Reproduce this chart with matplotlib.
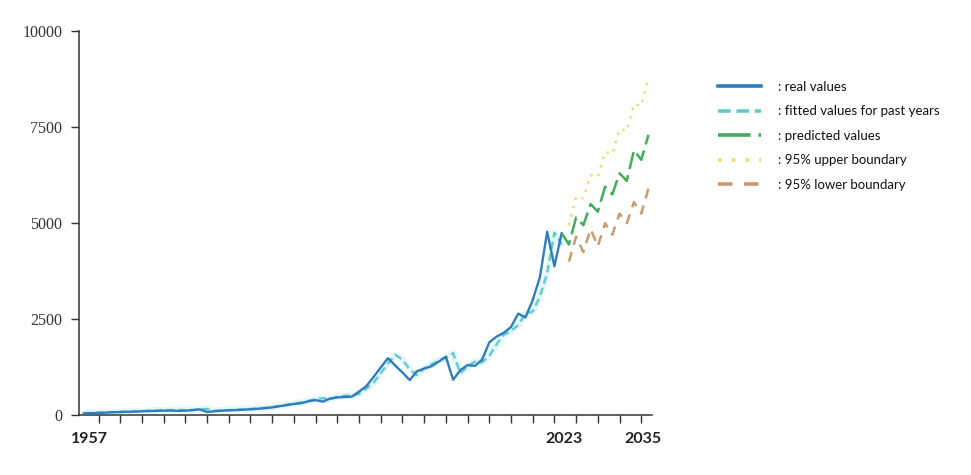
import numpy as np
import matplotlib
matplotlib.use('Agg')
import matplotlib.pyplot as plt
from matplotlib.lines import Line2D

# data
years_real = list(range(1957, 2024))
real = [55, 60, 65, 75, 85, 90, 95, 100, 110, 115,
        120, 125, 130, 120, 125, 140, 160, 90, 110, 125,
        135, 140, 150, 160, 175, 190, 210, 240, 270, 300,
        320, 370, 400, 360, 440, 470, 480, 490, 620, 760,
        1000, 1250, 1490, 1300, 1120, 920, 1150, 1220, 1280, 1400,
        1530, 930, 1180, 1310, 1290, 1450, 1900, 2050, 2150, 2300,
        2650, 2550, 3000, 3600, 4780, 3880, 4740]
fitted = [60, 70, 75, 85, 90, 95, 100, 110, 115, 125,
          130, 135, 140, 145, 140, 145, 160, 170, 120, 130,
          140, 150, 160, 170, 185, 200, 220, 250, 280, 310,
          340, 380, 420, 450, 420, 490, 510, 520, 560, 700,
          850, 1100, 1350, 1580, 1450, 1200, 1050, 1220, 1330, 1420,
          1500, 1620, 1100, 1280, 1400, 1380, 1550, 1850, 2100, 2200,
          2350, 2650, 2700, 3100, 3700, 4750, 4450]

years_pred = list(range(2023, 2036))
predicted = [4740, 4450, 5150, 4950, 5500, 5300, 5950, 5750, 6300, 6100, 6900, 6650, 7300]
years_bound = list(range(2024, 2036))
upper = [4950, 5700, 5650, 6250, 6200, 6850, 6800, 7450, 7400, 8100, 8050, 8780]
lower = [4000, 4650, 4250, 4850, 4400, 5000, 4700, 5250, 5000, 5550, 5250, 5900]

yticks = [0, 2500, 5000, 7500, 10000]
xticks = list(range(1959, 2035, 3))
xlabels = {'1957': 1957.7, '2023': 2023.3, '2035': 2034.2}

c_real = '#2f7dbf'
c_fit = '#62cbc6'
c_pred = '#3fae5a'
c_up = '#f0d877'
c_low = '#c99a6b'

fig = plt.figure(figsize=(9.71, 4.75), dpi=100)
ax = fig.add_axes([0.0814, 0.1253, 0.5898, 0.8095])

# light halo along the history
ax.plot(years_real, fitted, color='#cdf1f3', lw=5, alpha=0.5, solid_capstyle='round', zorder=1)
ax.plot(years_real, real, color=c_real, lw=1.7, zorder=3)
ax.plot(years_real, fitted, color=c_fit, lw=1.7, dashes=(3.2, 1.8), zorder=2)
ax.plot(years_pred, predicted, color=c_pred, lw=1.8, dashes=(7, 2.5), zorder=3)
ax.plot(years_bound, upper, color=c_up, lw=1.8, dashes=(1, 2.5), zorder=3)
ax.plot(years_bound, lower, color=c_low, lw=1.8, dashes=(4, 3), zorder=3)

ax.set_xlim(1956.31, 2035.45)
ax.set_ylim(0, 10000)
for s in ['top', 'right']:
    ax.spines[s].set_visible(False)
for s in ['left', 'bottom']:
    ax.spines[s].set_color('#333333')
    ax.spines[s].set_linewidth(1.1)

ax.set_yticks(yticks)
ax.set_yticklabels([str(v) for v in yticks], family='Liberation Serif', fontsize=11.5, color='#222222')
ax.tick_params(axis='y', length=6, width=1, pad=6, colors='#333333')
ax.set_xticks(xticks)
ax.set_xticklabels([])
ax.tick_params(axis='x', length=6, width=1, colors='#333333')

for lab, xv in xlabels.items():
    ax.text(xv, -0.062, lab, transform=ax.get_xaxis_transform(), ha='center', va='center',
            family='Lato', fontsize=11.5, fontweight='bold', color='#222222')

handles = [
    Line2D([], [], color=c_real, lw=2.6),
    Line2D([], [], color=c_fit, lw=2.6, dashes=(3.5, 1.6)),
    Line2D([], [], color=c_pred, lw=2.6, dashes=(9, 2.2)),
    Line2D([], [], color=c_up, lw=2.6, dashes=(1, 2.8)),
    Line2D([], [], color=c_low, lw=2.6, dashes=(4, 3.2)),
]
labels = [': real values', ': fitted values for past years', ': predicted values',
          ': 95% upper boundary', ': 95% lower boundary']
leg = fig.legend(handles, labels, loc='upper left', bbox_to_anchor=(0.727, 0.855),
                 frameon=False, prop={'family': 'Lato', 'size': 9.5},
                 handlelength=3.3, handletextpad=1.25, labelspacing=0.95)
for t in leg.get_texts():
    t.set_color('#111111')

fig.savefig('out.png', dpi=100)
